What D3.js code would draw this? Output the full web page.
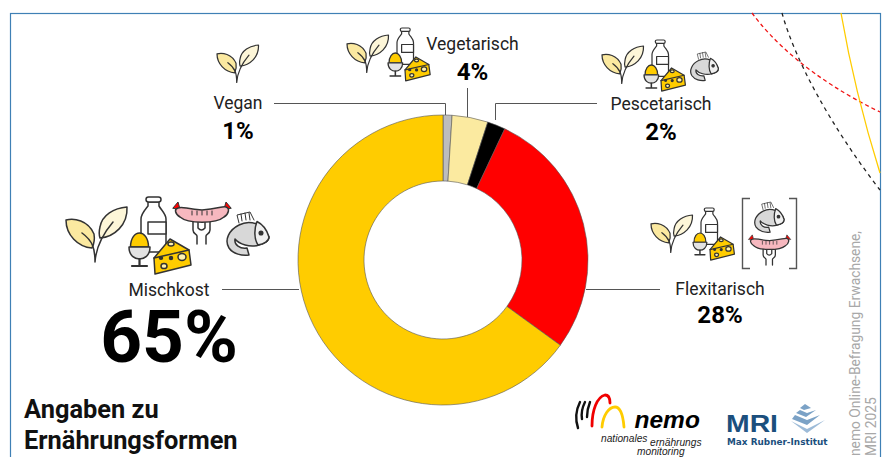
<!DOCTYPE html>
<html><head><meta charset="utf-8">
<script src="https://cdn.jsdelivr.net/npm/d3@7"></script>
<style>html,body{margin:0;padding:0;background:#fff;overflow:hidden}svg{display:block;font-family:Roboto,sans-serif}</style>
</head><body><svg id="c" width="885" height="457"></svg>
<script>
const categories = ["Vegan","Vegetarisch","Pescetarisch","Flexitarisch","Mischkost"];
const values = [1,4,2,28,65];
const colors = ["#bdbdbd","#fbeaa0","#000000","#ff0000","#ffcc00"];

const svg = d3.select("#c");
const ink = "#333";

// frame
svg.append("rect").attr("x",10.5).attr("y",13.5).attr("width",870).attr("height",480)
  .attr("fill","#fff").attr("stroke","#3f80b5").attr("stroke-width",1.2);

// decorative curves
const deco = svg.append("g").attr("fill","none");
deco.append("path").attr("d","M752,13 C772,40 810,78 880,112").attr("stroke","#f01414").attr("stroke-width",1.3).attr("stroke-dasharray","4 3");
deco.append("path").attr("d","M782,13 C795,60 830,125 880,190").attr("stroke","#222").attr("stroke-width",1.3).attr("stroke-dasharray","4 4");
deco.append("path").attr("d","M841,13 C850,65 865,125 880,173").attr("stroke","#ffcc00").attr("stroke-width",1.3);

// donut
const cx=443, cy=260, rO=145, rI=79;
const pie = d3.pie().sort(null).value(d=>d)(values);
const arc = d3.arc().innerRadius(rI).outerRadius(rO);
svg.append("g").attr("transform",`translate(${cx},${cy})`).selectAll("path").data(pie).join("path")
  .attr("d",arc).attr("fill",(d,i)=>colors[i]).attr("stroke","#555").attr("stroke-width",0.6);

// leader lines
const leaders=["M274,103.5H445.5V115","M467.5,88V117","M495.5,120V103.5H597","M586,289.5H660","M222,289.5H299"];
svg.append("g").selectAll("path").data(leaders).join("path").attr("d",d=>d).attr("fill","none").attr("stroke","#555").attr("stroke-width",1);

// labels
const labelPos=[[238,109,139,24],[472.5,50,80,24],[661,110,140,24],[720,295,323,24],[169,296,362,73]];
const T=svg.append("g").attr("text-anchor","middle");
categories.forEach((c,i)=>{
  const [x,y1,y2,fs]=labelPos[i];
  T.append("text").attr("x",x).attr("y",y1).attr("font-size",17.5).attr("fill","#222").text(c);
  T.append("text").attr("x",x).attr("y",y2).attr("font-size",fs).attr("font-weight",700).attr("fill","#000").text(values[i]+"%");
});

// title
svg.append("text").attr("x",24).attr("y",418).attr("font-size",25.4).attr("font-weight",700).attr("fill","#111").text("Angaben zu");
svg.append("text").attr("x",24).attr("y",449).attr("font-size",25.4).attr("font-weight",700).attr("fill","#111").text("Ernährungsformen");

// icons
function base(x,y,s){return svg.append("g").attr("transform",`translate(${x},${y}) scale(${s})`).attr("stroke",ink).attr("stroke-width",1.5/Math.sqrt(s)).attr("stroke-linejoin","round").attr("stroke-linecap","round");}
function plant(x,y,s){const g=base(x,y,s);
  g.append("path").attr("d","M0,13C8,11 22,13 28,27C29,33 28,37 26,41C12,40 0,28 0,13Z").attr("fill","#fbe9a0");
  g.append("path").attr("d","M61,0C48,1 36,8 34,20C33,24 33,28 34,31C48,30 62,18 61,0Z").attr("fill","#fdf6d8");
  g.append("path").attr("d","M29,55C29,42 27,34 16,26M29,55C30,40 36,28 47,15").attr("fill","none");}
function bottle(x,y,s){const g=base(x,y,s);
  g.append("path").attr("d","M7,5V9C3,14 0,17 0,22V55H25V22C25,17 21,14 18,9V5Z").attr("fill","#fff");
  g.append("rect").attr("x",5).attr("y",0).attr("width",15).attr("height",5).attr("rx",2.5).attr("fill","#fff");
  g.append("rect").attr("x",7).attr("y",25).attr("width",18).attr("height",12).attr("fill","#fff");}
function cup(x,y,s){const g=base(x,y,s);
  g.append("path").attr("d","M1.5,14C1.5,5 6,0 10.5,0C15,0 19.5,5 19.5,14Z").attr("fill","#ffcc00");
  g.append("path").attr("d","M0,14H21C21,23 15,26 10.5,26C6,26 0,23 0,14Z").attr("fill","#e3e3e3");
  g.append("path").attr("d","M10.5,26V32M3,33H18").attr("fill","none").attr("stroke-width",2.2);}
function cheese(x,y,s){const g=base(x,y,s);
  g.append("path").attr("d","M0,19L16,0L35,11L37,26L1,35Z").attr("fill","#ffcc00");
  g.append("path").attr("d","M0,19L35,11").attr("fill","none");
  [[17,5,3,2],[28,18,4,3.4],[10,27,3,2.6],[17,19,1.5,1.5],[7,19,1.5,1.2]].forEach(h=>g.append("ellipse").attr("cx",h[0]).attr("cy",h[1]).attr("rx",h[2]).attr("ry",h[3]).attr("fill",h[2]>2?"#fff2b0":"#333"));}
function sausage(x,y,s){const g=base(x,y,s);
  g.append("path").attr("d","M21,22V32C21,36 25,36 25,38V46M38,22V32C38,36 34,36 34,38V46M26,22V30Q29.5,34 33,30V22").attr("fill","none");
  g.append("path").attr("d","M1,10L6,4L8,11ZM59,10L54,4L52,11Z").attr("fill","#ff0000").attr("stroke-width",1);
  g.append("path").attr("d","M6,10C10,8 14,11 30,12C46,11 50,8 54,9C58,10 57,16 52,19C44,26 16,26 8,19C3,16 2,11 6,10Z").attr("fill","#f7b8bf");
  g.append("path").attr("d","M20,13V17M25,13V17M30,13V17M35,13V17M40,13V17").attr("fill","none").attr("stroke-width",1);}
function fish(x,y,s){const g=base(x,y,s);
  g.append("path").attr("d","M13,11L11,3L24,0L28,8M16,9L15,2M20,8L19,1M24,8L23,1").attr("fill","#fff").attr("stroke-width",1);
  g.append("path").attr("d","M43,25C38,12 24,7 13,13C3,18 -2,28 3,36C7,42 16,44 23,43L21,36C14,37 8,33 9,27C13,32 24,36 33,33C38,32 43,29 43,25Z").attr("fill","#d8d8d8");
  g.append("path").attr("d","M31,9.5C28,17 28,27 32,33C38,32 43,29 43,25C41,18 36,12 31,9.5Z").attr("fill","#f0f0f0");
  g.append("circle").attr("cx",35).attr("cy",21).attr("r",1.8).attr("fill","#333");}

plant(66,207,1);bottle(141,197,1);sausage(172,198,1);cup(129,233,1);cheese(154,239,1);fish(226,212,1);
plant(217,45,.68);
plant(347,35,.68);bottle(397,28,.66);cup(388,53,.7);cheese(405,57,.68);
plant(602,46,.68);bottle(652,40,.66);cup(644,65,.7);cheese(661,68,.66);fish(690,52,.66);
plant(651,215,.68);bottle(701,208,.66);cup(693,233,.66);cheese(710,237,.66);fish(754,202,.7);sausage(748,232,.72);
svg.append("path").attr("d","M750,198.5H742.5V268.5H750M789,198.5H796.5V268.5H789").attr("fill","none").attr("stroke","#555").attr("stroke-width",1.4);

// nemo logo
const lg=svg.append("g").attr("fill","none").attr("stroke-linecap","round");
lg.append("path").attr("d","M580,402C576,410 575,419 578,428M585,402C582,408 581,413 582,419M590,402C588,407 587,411 587,417").attr("stroke","#111").attr("stroke-width",2.4);
lg.append("path").attr("d","M592,426C592,410 597,397 605,395C609,395 610,399 610,403").attr("stroke","#f00000").attr("stroke-width",2.8);
lg.append("path").attr("d","M602,427C603,415 609,407 615,407C620,407 623,415 624,427").attr("stroke","#ffcc00").attr("stroke-width",2.8);
svg.append("text").attr("x",634.5).attr("y",428).attr("font-family","'Liberation Sans'").attr("font-size",24.5).attr("font-weight",700).attr("font-style","italic").attr("fill","#000").text("nemo");
const sm=svg.append("g").attr("font-family","'Liberation Sans'").attr("font-size",10.2).attr("font-style","italic").attr("fill","#222");
sm.append("text").attr("x",601).attr("y",442).text("nationales");
sm.append("text").attr("x",650).attr("y",446).text("ernährungs");
sm.append("text").attr("x",637).attr("y",455).text("monitoring");

// MRI logo
svg.append("text").attr("x",726).attr("y",432).attr("font-family","'Liberation Sans'").attr("font-size",24).attr("font-weight",700).attr("fill","#1b4f7d").attr("textLength",52).attr("lengthAdjust","spacingAndGlyphs").text("MRI");
svg.append("text").attr("x",727).attr("y",445).attr("font-family","'DejaVu Sans'").attr("font-size",8.9).attr("font-weight",700).attr("fill","#1b4f7d").text("Max Rubner-Institut");
const py=svg.append("g");
["M805,404L811,408L804,410L800,408Z","M800,410L807,413L816,410L806,417L796,413Z","M795,415L807,420L820,415L807,425L792,419Z","M791,421L807,429L825,420L807,433Z"].forEach((d,i)=>py.append("path").attr("d",d).attr("fill",i==3?"#9dbbd8":"#7ba2c6"));

// source
const src=svg.append("g").attr("font-size",13.8).attr("fill","#a8a8a8");
src.append("text").attr("transform","translate(860,456) rotate(-90)").text("nemo Online-Befragung Erwachsene,");
src.append("text").attr("transform","translate(876,456) rotate(-90)").text("MRI 2025");
</script></body></html>
